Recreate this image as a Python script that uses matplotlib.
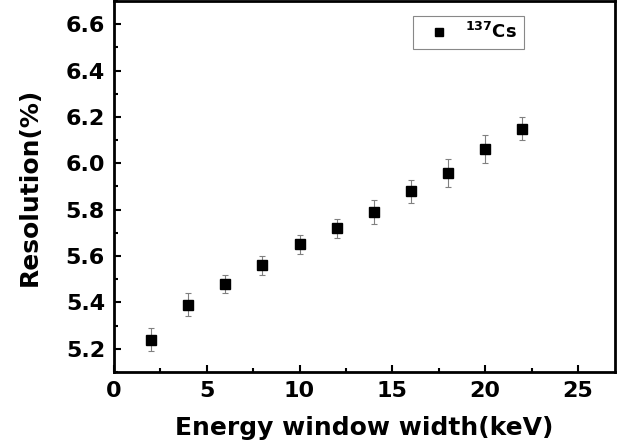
import matplotlib
matplotlib.use("Agg")
import matplotlib.pyplot as plt
from matplotlib.ticker import MultipleLocator, FormatStrFormatter

plt.rcParams["font.family"] = ["DejaVu Sans"]
plt.rcParams["font.weight"] = "bold"
plt.rcParams["mathtext.default"] = "bf"

width = [2, 4, 6, 8, 10, 12, 14, 16, 18, 20, 22]
resolution = [5.24, 5.39, 5.48, 5.56, 5.65, 5.72, 5.79, 5.88, 5.96, 6.06, 6.15]
err = [0.05, 0.05, 0.04, 0.04, 0.04, 0.04, 0.05, 0.05, 0.06, 0.06, 0.05]

fig = plt.figure(figsize=(6.39, 4.44), dpi=100)
ax = fig.add_axes([114 / 639, 1 - 372 / 444, (615 - 114) / 639, (372 - 1) / 444])

ax.errorbar(width, resolution, yerr=err, fmt="none", ecolor="#808080",
            elinewidth=0.8, capsize=2.5, capthick=0.8, zorder=2)
ax.plot(width, resolution, "s", color="black", markersize=6.5, zorder=3,
        label=r"$^{137}$Cs")

ax.set_xlim(0, 27)
ax.set_ylim(5.1, 6.7)
ax.xaxis.set_major_locator(MultipleLocator(5))
ax.xaxis.set_minor_locator(MultipleLocator(2.5))
ax.yaxis.set_major_locator(MultipleLocator(0.2))
ax.yaxis.set_minor_locator(MultipleLocator(0.1))
ax.yaxis.set_major_formatter(FormatStrFormatter("%.1f"))

ax.tick_params(which="both", direction="in", top=False, right=False, width=1.5)
ax.tick_params(which="major", length=5, labelsize=16, pad=6.5)
ax.tick_params(which="minor", length=3)
for s in ax.spines.values():
    s.set_linewidth(2)

ax.set_xlabel("Energy window width(keV)", fontsize=18, fontweight="bold", labelpad=11)
ax.set_ylabel("Resolution(%)", fontsize=18, fontweight="bold", labelpad=17)

leg = ax.legend(loc="upper left", bbox_to_anchor=((413 - 114) / 501, 1 - 15 / 371),
                borderaxespad=0, fontsize=13, fancybox=False, edgecolor="#888888",
                framealpha=1, handlelength=2.2, handletextpad=0.35, borderpad=0.35,
                markerscale=0.8)
leg.get_frame().set_linewidth(0.8)

fig.savefig("out.png", dpi=100)
